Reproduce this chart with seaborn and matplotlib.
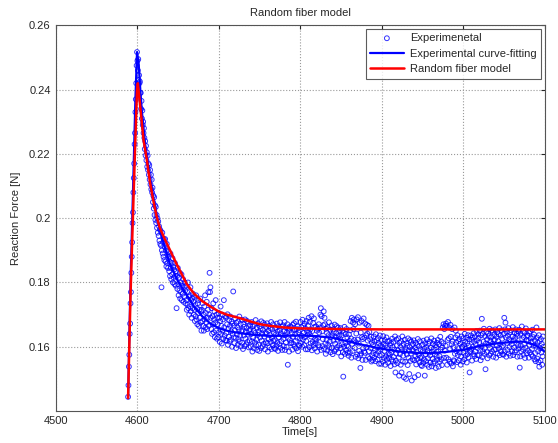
import matplotlib
matplotlib.use("Agg")
import matplotlib.pyplot as plt
import numpy as np
import seaborn as sns

# measured reaction force, one sample every 0.5 s from t = 4589 s, in units of 1e-4 N
t_start = 4589.0
t_step = 0.5
force_raw = [
    1444, 1480, 1538, 1575, 1640, 1672, 1735, 1770, 1830, 1880, 1925, 1985, 2018, 2080, 2125, 2170, 2230, 2265, 2330, 2370,
    2420, 2475, 2517, 2490, 2460, 2495, 2430, 2445, 2420, 2425, 2390, 2390, 2340, 2365, 2310, 2335, 2290, 2300, 2265, 2280,
    2250, 2215, 2240, 2195, 2225, 2180, 2205, 2160, 2195, 2150, 2170, 2135, 2165, 2120, 2150, 2105, 2135, 2090, 2120, 2080,
    2095, 2050, 2070, 2030, 2065, 2010, 2040, 1995, 2035, 1985, 2010, 1970, 2000, 1955, 1990, 1945, 1975, 1930, 1965, 1920,
    1960, 1915, 1785, 1900, 1955, 1890, 1925, 1880, 1935, 1870, 1910, 1935, 1865, 1900, 1850, 1920, 1860, 1885, 1845, 1895,
    1880, 1835, 1865, 1820, 1890, 1845, 1810, 1860, 1825, 1875, 1800, 1850, 1815, 1840, 1795, 1860, 1820, 1790, 1835, 1720,
    1820, 1780, 1845, 1795, 1760, 1815, 1775, 1830, 1750, 1800, 1770, 1825, 1745, 1790, 1765, 1810, 1740, 1785, 1755, 1800,
    1775, 1735, 1790, 1745, 1715, 1770, 1730, 1800, 1720, 1755, 1700, 1760, 1725, 1785, 1710, 1745, 1690, 1750, 1720, 1765,
    1740, 1700, 1755, 1715, 1680, 1730, 1695, 1760, 1685, 1720, 1670, 1735, 1705, 1745, 1665, 1715, 1690, 1750, 1675, 1710,
    1650, 1715, 1680, 1735, 1665, 1700, 1650, 1725, 1685, 1760, 1660, 1705, 1675, 1740, 1655, 1690, 1715, 1770, 1665, 1700,
    1830, 1770, 1785, 1690, 1655, 1720, 1640, 1695, 1670, 1735, 1645, 1685, 1710, 1630, 1675, 1745, 1650, 1700, 1625, 1690,
    1670, 1630, 1705, 1645, 1690, 1615, 1680, 1725, 1640, 1665, 1610, 1700, 1650, 1685, 1625, 1745, 1660, 1635, 1695, 1620,
    1690, 1643, 1619, 1670, 1701, 1606, 1656, 1631, 1683, 1616, 1665, 1694, 1622, 1648, 1678, 1600, 1672, 1640, 1772, 1629,
    1666, 1611, 1651, 1688, 1628, 1596, 1674, 1639, 1661, 1606, 1679, 1624, 1654, 1694, 1616, 1634, 1671, 1601, 1648, 1684,
    1612, 1652, 1593, 1670, 1635, 1662, 1602, 1685, 1625, 1647, 1607, 1658, 1680, 1615, 1638, 1675, 1598, 1650, 1620, 1667,
    1655, 1600, 1640, 1677, 1617, 1585, 1663, 1628, 1650, 1595, 1668, 1613, 1643, 1683, 1605, 1623, 1660, 1590, 1637, 1673,
    1606, 1646, 1587, 1664, 1629, 1656, 1596, 1679, 1619, 1641, 1601, 1652, 1674, 1609, 1632, 1669, 1592, 1644, 1614, 1661,
    1641, 1673, 1611, 1585, 1650, 1623, 1665, 1598, 1636, 1658, 1615, 1677, 1593, 1627, 1654, 1604, 1670, 1619, 1644, 1596,
    1621, 1593, 1659, 1639, 1603, 1672, 1613, 1647, 1587, 1664, 1630, 1608, 1652, 1676, 1597, 1642, 1617, 1662, 1590, 1635,
    1667, 1624, 1602, 1648, 1677, 1590, 1636, 1613, 1660, 1599, 1645, 1670, 1544, 1628, 1656, 1585, 1650, 1621, 1663, 1611,
    1660, 1613, 1643, 1591, 1668, 1631, 1608, 1673, 1651, 1600, 1640, 1618, 1678, 1595, 1655, 1628, 1663, 1586, 1645, 1605,
    1603, 1651, 1626, 1677, 1611, 1661, 1634, 1600, 1684, 1622, 1665, 1643, 1605, 1672, 1630, 1657, 1592, 1618, 1680, 1648,
    1637, 1592, 1664, 1690, 1644, 1599, 1678, 1654, 1610, 1632, 1695, 1589, 1649, 1615, 1674, 1605, 1688, 1661, 1595, 1623,
    1611, 1663, 1621, 1650, 1585, 1656, 1628, 1605, 1670, 1644, 1599, 1660, 1700, 1720, 1590, 1695, 1648, 1602, 1624, 1667,
    1710, 1593, 1690, 1670, 1610, 1578, 1656, 1621, 1643, 1588, 1661, 1606, 1636, 1676, 1598, 1616, 1653, 1583, 1630, 1666,
    1596, 1636, 1577, 1654, 1619, 1646, 1586, 1669, 1609, 1631, 1591, 1642, 1664, 1599, 1622, 1659, 1582, 1634, 1604, 1651,
    1626, 1658, 1596, 1570, 1635, 1608, 1650, 1583, 1507, 1643, 1600, 1662, 1578, 1612, 1639, 1589, 1655, 1604, 1629, 1581,
    1600, 1572, 1638, 1618, 1582, 1651, 1680, 1626, 1566, 1690, 1609, 1587, 1675, 1655, 1685, 1621, 1596, 1670, 1569, 1614,
    1641, 1685, 1576, 1622, 1692, 1564, 1610, 1587, 1675, 1573, 1534, 1644, 1579, 1680, 1630, 1559, 1624, 1595, 1688, 1585,
    1628, 1581, 1672, 1559, 1636, 1599, 1668, 1641, 1619, 1568, 1665, 1586, 1646, 1563, 1623, 1596, 1631, 1554, 1613, 1573,
    1558, 1606, 1581, 1632, 1566, 1616, 1589, 1555, 1639, 1577, 1620, 1598, 1560, 1627, 1585, 1612, 1547, 1573, 1635, 1603,
    1592, 1547, 1619, 1574, 1599, 1554, 1633, 1609, 1565, 1587, 1621, 1544, 1604, 1570, 1629, 1560, 1596, 1616, 1550, 1578,
    1566, 1618, 1576, 1605, 1540, 1611, 1583, 1560, 1625, 1599, 1554, 1615, 1568, 1591, 1545, 1632, 1520, 1557, 1579, 1622,
    1604, 1549, 1589, 1626, 1566, 1510, 1612, 1577, 1599, 1544, 1617, 1520, 1592, 1632, 1554, 1572, 1609, 1505, 1586, 1622,
    1553, 1593, 1500, 1611, 1576, 1603, 1543, 1626, 1566, 1588, 1515, 1599, 1621, 1556, 1579, 1616, 1495, 1591, 1561, 1608,
    1588, 1620, 1558, 1505, 1597, 1570, 1612, 1545, 1583, 1605, 1562, 1624, 1512, 1574, 1601, 1551, 1617, 1566, 1591, 1543,
    1568, 1540, 1606, 1586, 1550, 1619, 1560, 1594, 1510, 1611, 1577, 1555, 1599, 1623, 1544, 1589, 1564, 1609, 1537, 1582,
    1616, 1573, 1551, 1597, 1626, 1539, 1585, 1562, 1609, 1548, 1593, 1619, 1554, 1577, 1605, 1534, 1599, 1570, 1612, 1560,
    1621, 1585, 1538, 1608, 1571, 1553, 1631, 1591, 1561, 1616, 1543, 1598, 1660, 1611, 1670, 1565, 1655, 1588, 1665, 1603,
    1672, 1566, 1665, 1544, 1621, 1677, 1561, 1626, 1660, 1553, 1593, 1668, 1631, 1548, 1608, 1655, 1616, 1539, 1598, 1558,
    1555, 1660, 1578, 1629, 1650, 1613, 1586, 1552, 1636, 1574, 1617, 1595, 1557, 1624, 1582, 1609, 1544, 1570, 1632, 1600,
    1599, 1554, 1626, 1581, 1606, 1561, 1640, 1616, 1572, 1594, 1628, 1551, 1611, 1577, 1636, 1567, 1603, 1623, 1520, 1585,
    1583, 1635, 1593, 1622, 1557, 1628, 1600, 1577, 1642, 1616, 1571, 1632, 1585, 1608, 1562, 1649, 1620, 1574, 1596, 1639,
    1628, 1573, 1613, 1650, 1590, 1558, 1636, 1601, 1687, 1568, 1641, 1586, 1616, 1656, 1578, 1596, 1633, 1530, 1610, 1646,
    1583, 1623, 1564, 1641, 1606, 1633, 1573, 1656, 1596, 1618, 1578, 1629, 1651, 1586, 1609, 1646, 1569, 1621, 1591, 1638,
    1622, 1654, 1592, 1566, 1631, 1604, 1646, 1579, 1617, 1639, 1596, 1658, 1574, 1608, 1635, 1585, 1651, 1600, 1625, 1577,
    1603, 1575, 1641, 1690, 1585, 1654, 1675, 1629, 1569, 1646, 1612, 1590, 1634, 1658, 1579, 1624, 1599, 1644, 1572, 1617,
    1651, 1608, 1586, 1632, 1661, 1574, 1620, 1597, 1644, 1583, 1628, 1654, 1589, 1612, 1640, 1569, 1634, 1605, 1647, 1595,
    1653, 1535, 1570, 1640, 1603, 1585, 1663, 1623, 1593, 1648, 1575, 1630, 1608, 1643, 1565, 1597, 1657, 1620, 1580, 1635,
    1635, 1588, 1618, 1566, 1643, 1606, 1583, 1648, 1626, 1575, 1615, 1593, 1653, 1570, 1630, 1603, 1638, 1561, 1620, 1580,
    1555, 1603, 1660, 1629, 1563, 1613, 1586, 1552, 1636, 1538, 1617, 1595, 1557, 1624, 1582, 1609, 1544, 1570, 1632, 1600,
]

# experimental curve fitting (blue line)
fit_t = [4589, 4592, 4595, 4598, 4600, 4602, 4604, 4606, 4610, 4615, 4620, 4625, 4630, 4640, 4650, 4660,
         4670, 4680, 4690, 4700, 4710, 4720, 4730, 4740, 4750, 4760, 4780, 4800, 4820, 4840, 4860, 4880,
         4900, 4920, 4940, 4960, 4980, 5000, 5020, 5040, 5060, 5075, 5090, 5100]
fit_f = [1444, 1800, 2080, 2370, 2517, 2480, 2400, 2330, 2230, 2140, 2065, 2000, 1945, 1860, 1805, 1765,
         1725, 1695, 1672, 1658, 1650, 1645, 1641, 1638, 1636, 1634, 1634, 1635, 1633, 1628, 1616, 1604,
         1594, 1586, 1581, 1580, 1584, 1590, 1602, 1610, 1615, 1616, 1603, 1585]

# random fiber model (red line)
model_t = [4589, 4592, 4595, 4598, 4600, 4601, 4603, 4605, 4608, 4612, 4616, 4620, 4624, 4628, 4634, 4640,
           4648, 4657, 4661, 4670, 4680, 4690, 4700, 4710, 4726, 4740, 4751, 4763, 4780, 4800, 4850, 4900,
           5000, 5100]
model_f = [1440, 1760, 2010, 2250, 2400, 2420, 2370, 2320, 2243, 2182, 2110, 2055, 2005, 1970, 1935, 1903,
           1860, 1815, 1795, 1765, 1742, 1725, 1710, 1700, 1689, 1678, 1670, 1665, 1660, 1657, 1655, 1654,
           1654, 1654]

force = np.array(force_raw) / 1e4
time = t_start + t_step * np.arange(len(force))

sns.set_style("white")
plt.rcParams["font.family"] = ["Liberation Sans", "DejaVu Sans"]

fig = plt.figure(figsize=(5.58, 4.43), dpi=100)
ax = fig.add_axes([0.0995, 0.0722, 0.8765, 0.8705])

sns.scatterplot(x=time, y=force, ax=ax, marker="o", s=12, facecolors="none",
                edgecolor="#0000ff", linewidth=0.7, alpha=0.8, label="Experimenetal")
sns.lineplot(x=fit_t, y=np.array(fit_f) / 1e4, ax=ax, color="#0000ff", linewidth=1.6,
             sort=False, estimator=None, label="Experimental curve-fitting")
sns.lineplot(x=model_t, y=np.array(model_f) / 1e4, ax=ax, color="#ff0000", linewidth=1.8,
             sort=False, estimator=None, label="Random fiber model")

ax.set_xlim(4500, 5100)
ax.set_ylim(0.14, 0.26)
ax.set_xticks([4500, 4600, 4700, 4800, 4900, 5000, 5100])
ax.set_yticks([0.16, 0.18, 0.2, 0.22, 0.24, 0.26])
ax.set_yticklabels(["0.16", "0.18", "0.2", "0.22", "0.24", "0.26"])
ax.grid(True, color="#999999", linestyle=":", linewidth=0.8)
ax.tick_params(direction="in", labelsize=8, length=3, top=True, right=True)
for s in ax.spines.values():
    s.set_color("#555555")
    s.set_linewidth(0.8)

ax.set_title("Random fiber model", fontsize=8, pad=7)
ax.set_xlabel("Time[s]", fontsize=8, labelpad=1)
ax.set_ylabel("Reaction Force [N]", fontsize=8, labelpad=6)

leg = ax.legend(loc="upper right", fontsize=8, frameon=True, fancybox=False,
                borderpad=0.4, handlelength=3.0, handletextpad=0.6, labelspacing=0.5,
                borderaxespad=0.3)
leg.get_frame().set_edgecolor("#333333")
leg.get_frame().set_linewidth(0.8)

fig.savefig("out.png", dpi=100)
